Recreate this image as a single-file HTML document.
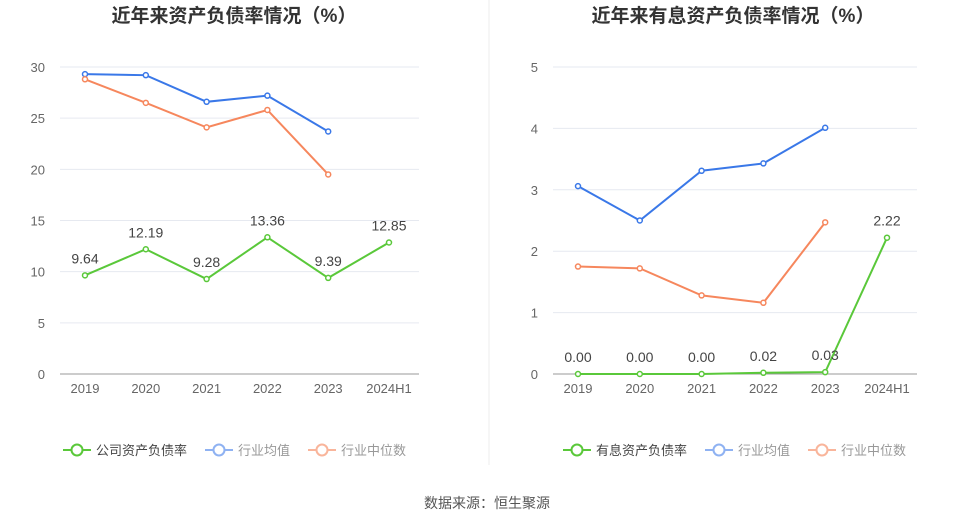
<!DOCTYPE html>
<html><head><meta charset="utf-8"><style>
body{margin:0;background:#fff;font-family:"Liberation Sans","Noto Sans CJK SC",sans-serif;}
svg text{font-family:"Liberation Sans","Noto Sans CJK SC",sans-serif;}
</style></head><body>
<svg id="s" width="975" height="525">
<line x1="489" y1="0" x2="489" y2="465" stroke="#eee"/>
<text x="234" y="22" text-anchor="middle" font-size="19" font-weight="bold" fill="#333">近年来资产负债率情况（%）</text>
<text x="733" y="22" text-anchor="middle" font-size="19" font-weight="bold" fill="#333">近年来有息资产负债率情况（%）</text>
<text x="487" y="508" text-anchor="middle" font-size="14" fill="#555">数据来源：恒生聚源</text>
</svg>
<script>
const categories=["2019","2020","2021","2022","2023","2024H1"];
const leftCompany=[9.64,12.19,9.28,13.36,9.39,12.85];
const leftAvg=[29.3,29.2,26.6,27.2,23.7];
const leftMedian=[28.8,26.5,24.1,25.8,19.5];
const leftTicks=[0,5,10,15,20,25,30];
const rightCompany=[0.00,0.00,0.00,0.02,0.03,2.22];
const rightAvg=[3.06,2.50,3.31,3.43,4.01];
const rightMedian=[1.75,1.72,1.28,1.16,2.47];
const rightTicks=[0,1,2,3,4,5];
const leftLegend=["公司资产负债率","行业均值","行业中位数"];
const rightLegend=["有息资产负债率","行业均值","行业中位数"];
const NS="http://www.w3.org/2000/svg";
const svg=document.getElementById('s');
function mk(tag,attrs,parent){const e=document.createElementNS(NS,tag);for(const k in attrs)e.setAttribute(k,attrs[k]);(parent||svg).appendChild(e);return e;}
function chart(pfx,x0,x1,ymax,ticks,company,avg,med,legend,lx){
  const top=67,bot=374;
  const xs=i=>x0+(x1-x0)/(categories.length-1)*i;
  const ys=v=>bot-(bot-top)*v/ymax;
  ticks.forEach(t=>{
    const l=mk('line',{x1:x0-25,x2:x1+30,y1:ys(t),y2:ys(t),stroke:t===0?'#999':'#e6e9f0'});
    
    
    const tx=mk('text',{x:x0-40,y:ys(t)+5,'text-anchor':'end','font-size':13,fill:'#666'});
    tx.textContent=t;
    
    
  });
  categories.forEach((c,i)=>{
    const tx=mk('text',{x:xs(i),y:393,'text-anchor':'middle','font-size':13,fill:'#666'});
    tx.textContent=c;
    
    
  });
  function series(vals,color,name,labels){
    const p=mk('polyline',{points:vals.map((v,i)=>xs(i)+','+ys(v)).join(' '),fill:'none',stroke:color,'stroke-width':2});
    
    
    vals.forEach((v,i)=>{
      const c=mk('circle',{cx:xs(i),cy:ys(v),r:2.5,fill:'#fff',stroke:color,'stroke-width':1.5});
      
      
      if(labels){
        const t=mk('text',{x:xs(i),y:ys(v)-12,'text-anchor':'middle','font-size':14,fill:'#444'});
        t.textContent=v.toFixed(2);
        
        
      }
    });
  }
  series(avg,'#3a78e8','average',false);
  series(med,'#f6875d','median',false);
  series(company,'#5ac83a','company',true);
  const cols=['#5ac83a','#8fb2f2','#f9b59b'];
  const tcols=['#444','#999','#999'];
  let x=lx;
  legend.forEach((n,i)=>{
    const g=mk('g',{});
    
    
    mk('line',{x1:x,x2:x+28,y1:450,y2:450,stroke:cols[i],'stroke-width':2},g);
    mk('circle',{cx:x+14,cy:450,r:5.5,fill:'#fff',stroke:cols[i],'stroke-width':2},g);
    const t=mk('text',{x:x+33,y:455,'font-size':13,fill:tcols[i]},g);
    t.textContent=n;
    x+=33+n.length*13+18;
  });
}
chart('left',85,389,30,leftTicks,leftCompany,leftAvg,leftMedian,leftLegend,63);
chart('right',578,887,5,rightTicks,rightCompany,rightAvg,rightMedian,rightLegend,563);
</script>
</body></html>
